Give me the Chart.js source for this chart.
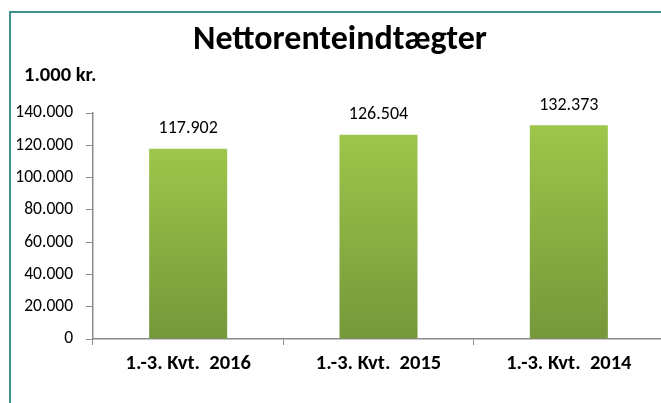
<!DOCTYPE html>
<html>
<head>
<meta charset="utf-8">
<script src="https://cdn.jsdelivr.net/npm/chart.js@4"></script>
<style>
  html, body { margin: 0; padding: 0; background: #fff; overflow: hidden; }
  #wrap { position: relative; width: 661px; height: 403px; overflow: hidden; }
  #ramme { position: absolute; left: 9px; top: 11px; width: 700px; height: 500px;
           border-left: 2px solid #3f8f8c; border-top: 2px solid #3f8f8c; }
  canvas { position: absolute; left: 0; top: 0; }
</style>
</head>
<body>
<div id="wrap">
  <div id="ramme"></div>
  <canvas id="graf" width="700" height="403"></canvas>
</div>
<script>
const kategorier = ["1.-3. Kvt.  2016", "1.-3. Kvt.  2015", "1.-3. Kvt.  2014"];
const vaerdier = [117902, 126504, 132373];
const yTicks = [0, 20000, 40000, 60000, 80000, 100000, 120000, 140000];
const titel = "Nettorenteindtægter";
const enhed = "1.000 kr.";

const skrift = "Carlito, Lato, sans-serif";

// tusindtalsseparator med punktum
function formatTal(v) {
    return String(Math.round(v)).replace(/\B(?=(\d{3})+(?!\d))/g, ".");
}

// gradient for hver søjle fra top til bund
function soejleFarve(context) {
    const chart = context.chart;
    const y = chart.scales.y;
    if (!chart.chartArea || !y || context.parsed === undefined) return "#8bb042";
    const top = y.getPixelForValue(context.parsed.y);
    const bund = y.getPixelForValue(0);
    if (!isFinite(top) || !isFinite(bund) || top === bund) return "#8bb042";
    const g = chart.ctx.createLinearGradient(0, top, 0, bund);
    g.addColorStop(0, "#9dc64a");
    g.addColorStop(1, "#76973a");
    return g;
}

const tekstPlugin = {
    id: "tekster",
    afterDatasetsDraw(chart) {
        const ctx = chart.ctx;
        ctx.save();
        ctx.fillStyle = "#000";
        ctx.textAlign = "center";
        ctx.textBaseline = "bottom";
        ctx.font = "18px " + skrift;
        chart.getDatasetMeta(0).data.forEach((bar, i) => {
            ctx.fillText(formatTal(vaerdier[i]), bar.x, bar.y - 11);
        });
        ctx.font = "bold 34px " + skrift;
        ctx.textBaseline = "alphabetic";
        ctx.fillText(titel, 340, 49);
        ctx.font = "bold 20.5px " + skrift;
        ctx.textAlign = "left";
        ctx.fillText(enhed, 24, 81);
        ctx.restore();
    }
};

const ctx = document.getElementById("graf").getContext("2d");
new Chart(ctx, {
    type: "bar",
    data: {
        labels: kategorier,
        datasets: [{
            data: vaerdier,
            backgroundColor: soejleFarve,
            borderWidth: 0,
            categoryPercentage: 1,
            barPercentage: 0.41
        }]
    },
    options: {
        responsive: false,
        devicePixelRatio: 1,
        animation: false,
        layout: { padding: { top: 113, right: 36, bottom: 0, left: 0 } },
        plugins: {
            legend: { display: false },
            tooltip: { enabled: false }
        },
        scales: {
            x: {
                grid: { drawOnChartArea: false, drawTicks: true, tickLength: 6, color: "#8c8c8c", offset: true },
                border: { color: "#8c8c8c", width: 1.5 },
                ticks: { color: "#000", font: { family: skrift, size: 20.5, weight: "bold" }, padding: 7, maxRotation: 0 },
                afterFit: s => { s.height = 64; }
            },
            y: {
                min: 0,
                max: 140000,
                afterBuildTicks: s => { s.ticks = yTicks.map(v => ({ value: v })); },
                grid: { drawOnChartArea: false, drawTicks: true, tickLength: 7, color: "#8c8c8c" },
                border: { color: "#8c8c8c", width: 1.5 },
                ticks: { color: "#000", font: { family: skrift, size: 17.5 }, padding: 13, callback: v => formatTal(v) },
                afterFit: s => { s.width = 93; }
            }
        }
    },
    plugins: [tekstPlugin]
});
</script>
</body>
</html>
